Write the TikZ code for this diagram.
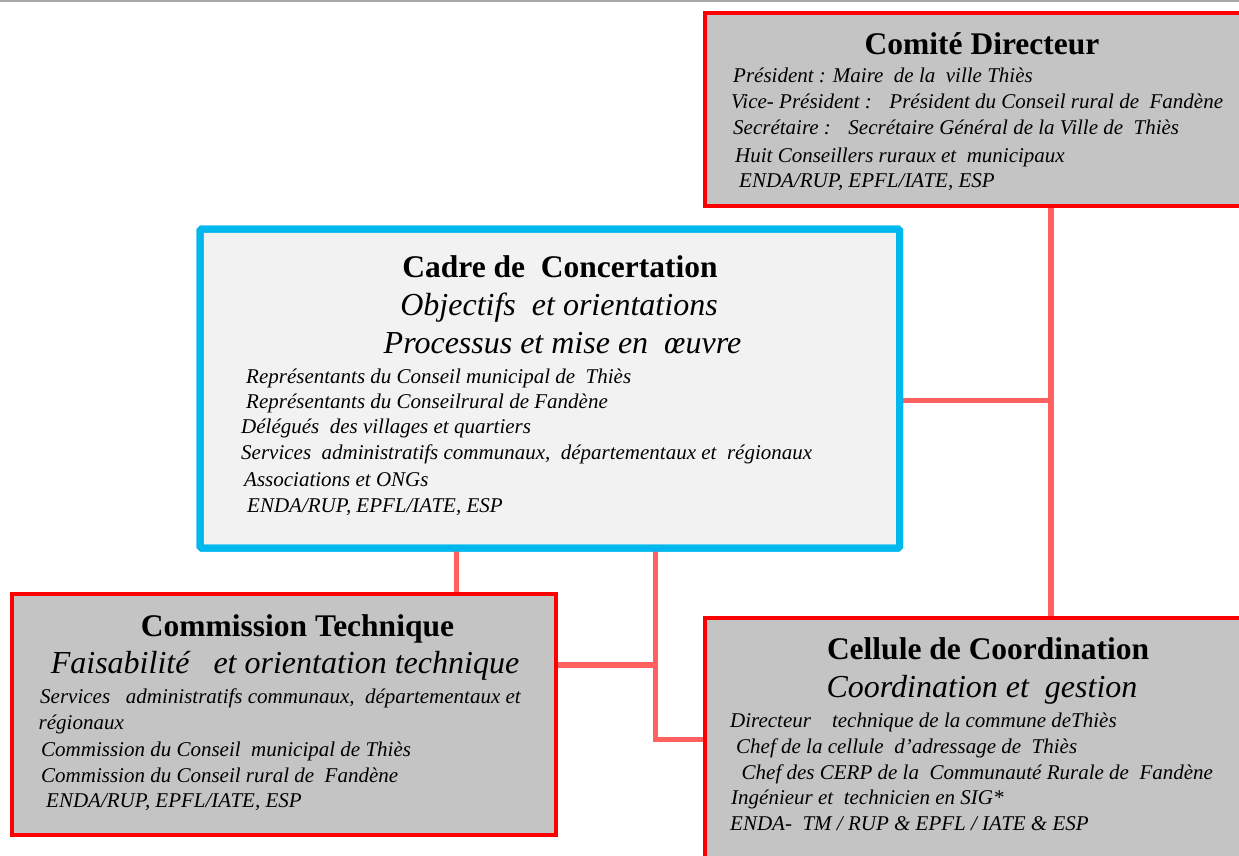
\documentclass[tikz,border=0pt]{standalone}
\usepackage{fontspec}
\setmainfont{Liberation Serif}
\usetikzlibrary{shadows}
\definecolor{boxgrey}{RGB}{196,196,196}
\definecolor{boxred}{RGB}{255,0,0}
\definecolor{cadreblue}{RGB}{0,183,238}
\definecolor{cadrefill}{RGB}{242,242,242}
\definecolor{linkred}{RGB}{255,96,96}
\definecolor{rulegrey}{RGB}{166,166,166}
\begin{document}
\begin{tikzpicture}[x=1pt,y=-1pt,
  redbox/.style={draw=boxred, line width=3.5pt, fill=boxgrey, inner sep=0pt, outer sep=0pt, anchor=north west},
  bluebox/.style={draw=cadreblue, line width=7pt, fill=cadrefill, inner sep=0pt, outer sep=0pt, anchor=north west,
    rounded corners=1.5pt,
    drop shadow={shadow xshift=2.5pt, shadow yshift=-2.5pt, opacity=0.3}},
  link/.style={draw=linkred, line width=5.5pt},
  boxtitle/.style={font=\fontsize{31.5}{36}\selectfont\bfseries, anchor=base, inner sep=0pt},
  boxsub/.style={font=\fontsize{32}{36}\selectfont\itshape, anchor=base, inner sep=0pt},
  item/.style={font=\fontsize{21}{24}\selectfont\itshape, anchor=base west, inner sep=0pt},
]
\useasboundingbox (0,0) rectangle (1239,856);
\clip (0,0) rectangle (1239,856);
\fill[white] (0,0) rectangle (1239,856);
% thin grey rule along the top edge
\fill[rulegrey] (0,0) rectangle (1239,2.5);

% boxes
\node[redbox, minimum width=560pt, minimum height=193pt] (cd) at (705,13) {};
\node[bluebox, minimum width=699.5pt, minimum height=319pt] (cc) at (200,229) {};
\node[redbox, minimum width=544pt, minimum height=241pt] (ct) at (12,594) {};
\node[redbox, minimum width=560pt, minimum height=260pt] (cel) at (705,618) {};

% junction points of the connectors
\coordinate (jr) at (1051,400.5);
\coordinate (jl) at (456.5,594);
\coordinate (jm) at (655.5,665);
\coordinate (jb) at (655.5,739.5);

% connectors
\draw[link] (cd.south -| jr) -- (cel.north -| jr);
\draw[link] (cc.east |- jr) -- (jr);
\draw[link] (cc.south -| jl) -- (ct.north -| jl);
\draw[link] (cc.south -| jm) -- (jb) -- (cel.west |- jb);
\draw[link] (ct.east |- jm) -- (jm);

% redraw box borders over connector ends
\draw[boxred, line width=3.5pt] (cd.north west) rectangle (cd.south east);
\draw[cadreblue, line width=7pt, rounded corners=1.5pt] (cc.north west) rectangle (cc.south east);
\draw[boxred, line width=3.5pt] (ct.north west) rectangle (ct.south east);
\draw[boxred, line width=3.5pt] (cel.north west) rectangle (cel.south east);

% Comité Directeur
\node[boxtitle] (cdt) at (982,55) {Comité Directeur};
\node[item] (cd1) at (733,83) {Président : Maire~ de la~ ville Thiès};
\node[item] (cd2) at (731,109) {Vice- Président :~~ Président du Conseil rural de~ Fandène};
\node[item] (cd3) at (733,135) {Secrétaire :~~ Secrétaire Général de la Ville de~ Thiès};
\node[item] (cd4) at (735,162) {Huit Conseillers ruraux et~ municipaux};
\node[item] (cd5) at (739,187) {ENDA/RUP, EPFL/IATE, ESP};

% Cadre de Concertation
\node[boxtitle] (cct) at (560,277) {Cadre de~ Concertation};
\node[boxsub] (ccs1) at (559,315) {Objectifs~ et orientations};
\node[boxsub] (ccs2) at (562.5,353) {Processus et mise en~ œuvre};
\node[item] (cc1) at (246,383) {Représentants du Conseil municipal de~ Thiès};
\node[item] (cc2) at (246,408) {Représentants du Conseilrural de Fandène};
\node[item] (cc3) at (241,433) {Délégués~ des villages et quartiers};
\node[item] (cc4) at (241,459) {Services~ administratifs communaux,~ départementaux et~ régionaux};
\node[item] (cc5) at (244,486) {Associations et ONGs};
\node[item] (cc6) at (247,512) {ENDA/RUP, EPFL/IATE, ESP};

% Commission Technique
\node[boxtitle] (ctt) at (297.5,636) {Commission Technique};
\node[boxsub] (cts) at (285,673) {Faisabilité~~ et orientation technique};
\node[item] (ct1) at (40,703) {Services~~ administratifs communaux,~ départementaux et};
\node[item] (ct2) at (38.5,729) {régionaux};
\node[item] (ct3) at (41,756) {Commission du Conseil~ municipal de Thiès};
\node[item] (ct4) at (41,782) {Commission du Conseil rural de~ Fandène};
\node[item] (ct5) at (46,807) {ENDA/RUP, EPFL/IATE, ESP};

% Cellule de Coordination
\node[boxtitle] (celt) at (988,659) {Cellule de Coordination};
\node[boxsub] (cels) at (982,697) {Coordination et~ gestion};
\node[item] (cel1) at (730,727) {Directeur~~~ technique de la commune deThiès};
\node[item] (cel2) at (736,753) {Chef de la cellule~ d’adressage de~ Thiès};
\node[item] (cel3) at (741.5,779) {Chef des CERP de la~ Communauté Rurale de~ Fandène};
\node[item] (cel4) at (731,804) {Ingénieur et~ technicien en SIG*};
\node[item] (cel5) at (730,830) {ENDA-~ TM / RUP \& EPFL / IATE \& ESP};
\end{tikzpicture}
\end{document}
